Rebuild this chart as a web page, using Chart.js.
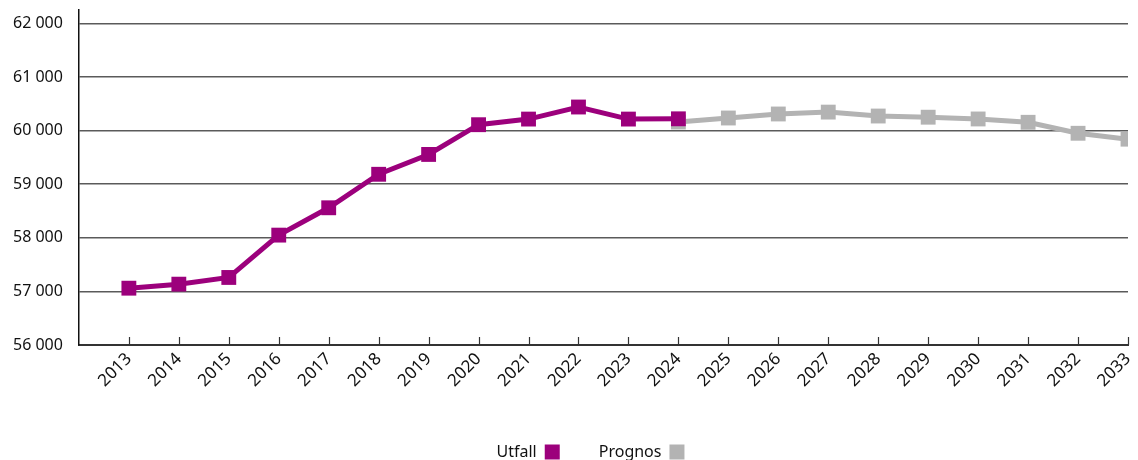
<!DOCTYPE html>
<html>
<head>
<meta charset="utf-8">
<script src="https://cdn.jsdelivr.net/npm/chart.js@4"></script>
<style>
  html, body { margin: 0; padding: 0; background: #fff; }
  #wrap { width: 1138px; height: 460px; }
</style>
</head>
<body>
<div id="wrap"><canvas id="chart"></canvas></div>
<script>
// Data
const years = [2013, 2014, 2015, 2016, 2017, 2018, 2019, 2020, 2021, 2022, 2023, 2024, 2025, 2026, 2027, 2028, 2029, 2030, 2031, 2032, 2033];
const utfall = [57060, 57135, 57260, 58050, 58560, 59185, 59555, 60110, 60215, 60440, 60215, 60220];
const prognosYears = [2024, 2025, 2026, 2027, 2028, 2029, 2030, 2031, 2032, 2033];
const prognos = [60160, 60235, 60310, 60345, 60272, 60250, 60217, 60155, 59950, 59840];
const yTicks = [56000, 57000, 58000, 59000, 60000, 61000, 62000];

const purple = '#9c007c';
const grey = '#b3b3b3';
const font = 'Noto Sans';

// inward tick marks on the x axis
const innerTicks = {
	id: 'innerTicks',
	afterDraw(chart) {
		const { ctx, scales: { x }, chartArea } = chart;
		ctx.save();
		ctx.strokeStyle = '#333';
		ctx.lineWidth = 1.2;
		years.forEach((yr) => {
			const px = Math.round(x.getPixelForValue(yr)) + 0.5;
			ctx.beginPath();
			ctx.moveTo(px, chartArea.bottom);
			ctx.lineTo(px, chartArea.bottom - 8);
			ctx.stroke();
		});
		ctx.restore();
	},
};

// nudge the legend a bit to the right, like the original
const legendShift = {
	id: 'legendShift',
	afterLayout(chart) {
		chart.legend.left += 28;
		chart.legend.right += 28;
	},
};

!(function () {
	const ctx = document.getElementById('chart');

	new Chart(ctx, {
		type: 'line',
		data: {
			datasets: [
				{
					label: 'Utfall',
					data: utfall.map((v, i) => ({ x: years[i], y: v })),
					borderColor: purple,
					backgroundColor: purple,
					borderWidth: 5,
					pointStyle: 'rect',
					pointRadius: 10.5,
					pointBorderWidth: 0,
					pointHoverRadius: 10.5,
				},
				{
					label: 'Prognos',
					data: prognos.map((v, i) => ({ x: prognosYears[i], y: v })),
					borderColor: grey,
					backgroundColor: grey,
					borderWidth: 5,
					pointStyle: 'rect',
					pointRadius: 10.5,
					pointBorderWidth: 0,
					pointHoverRadius: 10.5,
				},
			],
		},
		options: {
			responsive: true,
			maintainAspectRatio: false,
			animation: false,
			layout: {
				autoPadding: false,
				padding: { left: -3, right: 10, top: 10, bottom: -10 },
			},
			scales: {
				x: {
					type: 'linear',
					min: 2012,
					max: 2033,
					afterBuildTicks: (scale) => {
						scale.ticks = [2012].concat(years).map((v) => ({ value: v }));
					},
					afterFit: (scale) => {
						scale.height = 60;
						scale.paddingLeft = 0;
						scale.paddingRight = 0;
					},
					ticks: {
						autoSkip: false,
						maxRotation: 45,
						minRotation: 45,
						color: '#111',
						font: { family: font, size: 17 },
						padding: 4,
						callback: (v) => (v === 2012 ? '' : String(v)),
					},
					grid: {
						drawOnChartArea: false,
						drawTicks: false,
					},
					border: { color: '#333', width: 2 },
				},
				y: {
					min: 56000,
					max: 62250,
					afterBuildTicks: (scale) => {
						scale.ticks = yTicks.map((v) => ({ value: v }));
					},
					afterFit: (scale) => {
						scale.paddingTop = 0;
						scale.paddingBottom = 0;
					},
					ticks: {
						color: '#111',
						padding: 16,
						font: { family: font, size: 16 },
						callback: (v) => String(v).replace(/\B(?=(\d{3})+(?!\d))/g, ' '),
					},
					grid: {
						color: '#5a5a5a',
						lineWidth: 1.5,
						drawTicks: false,
					},
					border: { color: '#111', width: 1.5 },
				},
			},
			plugins: {
				legend: {
					position: 'bottom',
					rtl: true,
					reverse: true,
					labels: {
						color: '#111',
						font: { family: font, size: 16 },
						boxWidth: 15,
						boxHeight: 15,
						padding: 39,
						generateLabels: (chart) =>
							Chart.defaults.plugins.legend.labels.generateLabels(chart).map((l) => ({ ...l, lineWidth: 0 })),
					},
				},
				tooltip: { enabled: false },
			},
		},
		plugins: [innerTicks, legendShift],
	});
})();
</script>
</body>
</html>
